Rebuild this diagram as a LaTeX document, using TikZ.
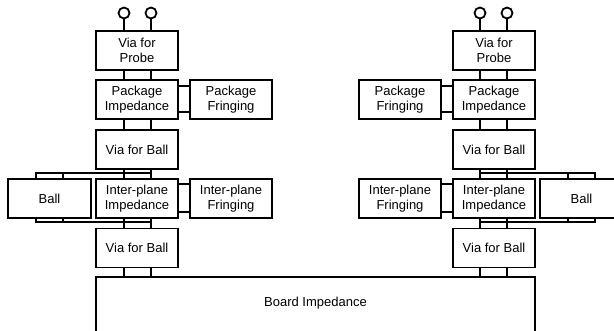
\documentclass[tikz,border=0pt]{standalone}
\usepackage{fontspec}
\setmainfont{Liberation Sans}
\begin{document}
\begin{tikzpicture}[x=1pt,y=-1pt,line width=1.8pt,
  blk/.style={draw,line width=1.8pt,minimum width=82pt,minimum height=39pt,inner sep=0pt,
    align=center,font=\fontsize{13}{15}\selectfont},
  probe/.style={draw,circle,minimum size=11pt,inner sep=0pt,line width=1.8pt},
  wire/.style={line width=1.8pt}]
\useasboundingbox (0,0) rectangle (614,331);
\clip (0,0) rectangle (614,331);

% ---- wire rails (x) and bus levels (y)
\coordinate (lc1) at (124,0);  \coordinate (lc2) at (151,0);
\coordinate (rc1) at (480,0);  \coordinate (rc2) at (507,0);
\coordinate (lb1) at (36,0);   \coordinate (lb2) at (63,0);
\coordinate (rb1) at (595,0);  \coordinate (rb2) at (568,0);
\coordinate (pf1) at (0,86);   \coordinate (pf2) at (0,112);
\coordinate (if1) at (0,184);  \coordinate (if2) at (0,212);
\coordinate (bt) at (0,173);   \coordinate (bb) at (0,222);

% ---- left stack
\node[blk] (lvp)  at (137,50.5)  {Via for\\Probe};
\node[blk] (lpi)  at (137,99.5)  {Package\\Impedance};
\node[blk] (lpf)  at (231,99.5)  {Package\\Fringing};
\node[blk] (lvb1) at (137,149.5) {Via for Ball};
\node[blk] (lipi) at (137,198.5) {Inter-plane\\Impedance};
\node[blk] (lipf) at (231,198.5) {Inter-plane\\Fringing};
\node[blk,minimum width=83pt] (lball) at (49.5,198.5) {Ball};
\node[blk] (lvb2) at (137,248)   {Via for Ball};

% ---- right stack
\node[blk] (rvp)  at (494,50.5)  {Via for\\Probe};
\node[blk] (rpi)  at (494,99.5)  {Package\\Impedance};
\node[blk] (rpf)  at (400,99.5)  {Package\\Fringing};
\node[blk] (rvb1) at (494,149.5) {Via for Ball};
\node[blk] (ripi) at (494,198.5) {Inter-plane\\Impedance};
\node[blk] (ripf) at (400,198.5) {Inter-plane\\Fringing};
\node[blk,minimum width=83pt] (rball) at (581.5,198.5) {Ball};
\node[blk] (rvb2) at (494,248)   {Via for Ball};

% ---- board
\node[draw,line width=1.8pt,minimum width=439pt,minimum height=80pt,inner sep=0pt] (board) at (315.5,317) {};
\node[font=\fontsize{13}{15}\selectfont] (boardtxt) at (315.5,303) {Board Impedance};

% ---- probe terminals
\node[probe] (lp1) at (124,13) {};
\node[probe] (lp2) at (151,13) {};
\node[probe] (rp1) at (480,13) {};
\node[probe] (rp2) at (507,13) {};
\draw[wire] (lp1.south) -- (lvp.north -| lp1);
\draw[wire] (lp2.south) -- (lvp.north -| lp2);
\draw[wire] (rp1.south) -- (rvp.north -| rp1);
\draw[wire] (rp2.south) -- (rvp.north -| rp2);

% ---- vertical rails, left
\foreach \c in {lc1,lc2}{
  \draw[wire] (lvp.south -| \c) -- (lpi.north -| \c);
  \draw[wire] (lpi.south -| \c) -- (lvb1.north -| \c);
  \draw[wire] (lvb1.south -| \c) -- (lipi.north -| \c);
  \draw[wire] (lipi.south -| \c) -- (lvb2.north -| \c);
  \draw[wire] (lvb2.south -| \c) -- (board.north -| \c);
}
% ---- vertical rails, right
\foreach \c in {rc1,rc2}{
  \draw[wire] (rvp.south -| \c) -- (rpi.north -| \c);
  \draw[wire] (rpi.south -| \c) -- (rvb1.north -| \c);
  \draw[wire] (rvb1.south -| \c) -- (ripi.north -| \c);
  \draw[wire] (ripi.south -| \c) -- (rvb2.north -| \c);
  \draw[wire] (rvb2.south -| \c) -- (board.north -| \c);
}

% ---- fringing links
\foreach \y in {pf1,pf2}{
  \draw[wire] (lpi.east |- \y) -- (lpf.west |- \y);
  \draw[wire] (rpi.west |- \y) -- (rpf.east |- \y);
}
\foreach \y in {if1,if2}{
  \draw[wire] (lipi.east |- \y) -- (lipf.west |- \y);
  \draw[wire] (ripi.west |- \y) -- (ripf.east |- \y);
}

% ---- ball buses
\draw[wire] (lball.north -| lb1) -- (lb1 |- bt) -- (lc2 |- bt);
\draw[wire] (lball.north -| lb2) -- (lb2 |- bt);
\draw[wire] (lball.south -| lb1) -- (lb1 |- bb) -- (lc2 |- bb);
\draw[wire] (lball.south -| lb2) -- (lb2 |- bb);
\draw[wire] (rball.north -| rb1) -- (rb1 |- bt) -- (rc1 |- bt);
\draw[wire] (rball.north -| rb2) -- (rb2 |- bt);
\draw[wire] (rball.south -| rb1) -- (rb1 |- bb) -- (rc1 |- bb);
\draw[wire] (rball.south -| rb2) -- (rb2 |- bb);
\end{tikzpicture}
\end{document}
